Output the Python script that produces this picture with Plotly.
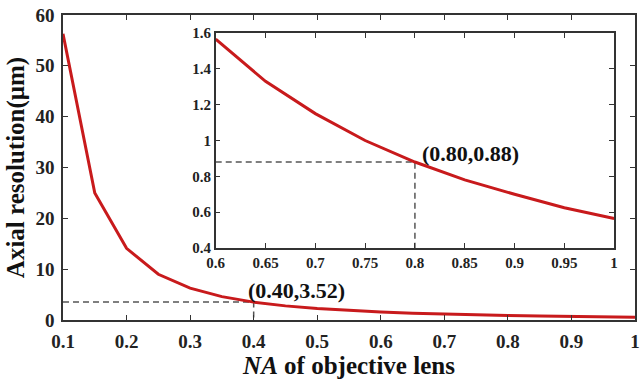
import plotly.graph_objects as go

# Main curve data
na_main = [0.10, 0.15, 0.20, 0.25, 0.30, 0.35, 0.40, 0.45, 0.50, 0.55, 0.60, 0.65, 0.70, 0.75, 0.80, 0.85, 0.90, 0.95, 1.00]
res_main = [56.3, 25.0, 14.1, 9.0, 6.26, 4.6, 3.52, 2.78, 2.25, 1.86, 1.56, 1.33, 1.15, 1.00, 0.88, 0.78, 0.70, 0.62, 0.56]

# Inset data
na_inset = [0.60, 0.65, 0.70, 0.75, 0.80, 0.85, 0.90, 0.95, 1.00]
res_inset = [1.565, 1.33, 1.15, 1.00, 0.88, 0.78, 0.70, 0.625, 0.565]

main_mark = (0.40, 3.52)
inset_mark = (0.80, 0.88)

main_xticks = [0.1, 0.2, 0.3, 0.4, 0.5, 0.6, 0.7, 0.8, 0.9, 1.0]
main_xlabels = ["0.1", "0.2", "0.3", "0.4", "0.5", "0.6", "0.7", "0.8", "0.9", "1"]
main_yticks = [0, 10, 20, 30, 40, 50, 60]
main_ylabels = ["0", "10", "20", "30", "40", "50", "60"]
inset_xticks = [0.6, 0.65, 0.7, 0.75, 0.8, 0.85, 0.9, 0.95, 1.0]
inset_xlabels = ["0.6", "0.65", "0.7", "0.75", "0.8", "0.85", "0.9", "0.95", "1"]
inset_yticks = [0.4, 0.6, 0.8, 1.0, 1.2, 1.4, 1.6]
inset_ylabels = ["0.4", "0.6", "0.8", "1", "1.2", "1.4", "1.6"]

RED = "#c81a1c"
AXC = "#333333"
DASHC = "#555555"
FONT = "Liberation Serif"

def b(labels):
    return ["<b>%s</b>" % s for s in labels]

fig = go.Figure()
fig.add_trace(go.Scatter(x=[na_main[0], main_mark[0], main_mark[0]], y=[main_mark[1], main_mark[1], 0],
                         mode="lines", line=dict(color=DASHC, width=1.5, dash="6px,4px"),
                         xaxis="x", yaxis="y", showlegend=False))
fig.add_trace(go.Scatter(x=na_main, y=res_main, mode="lines",
                         line=dict(color=RED, width=3), xaxis="x", yaxis="y", showlegend=False))
fig.add_trace(go.Scatter(x=[inset_xticks[0], inset_mark[0], inset_mark[0]], y=[inset_mark[1], inset_mark[1], inset_yticks[0]],
                         mode="lines", line=dict(color=DASHC, width=1.5, dash="6px,4px"),
                         xaxis="x2", yaxis="y2", showlegend=False))
fig.add_trace(go.Scatter(x=na_inset, y=res_inset, mode="lines",
                         line=dict(color=RED, width=3), xaxis="x2", yaxis="y2", showlegend=False))

axis_common = dict(showline=True, linecolor=AXC, linewidth=1.5, mirror="allticks",
                   ticks="inside", ticklen=5, tickcolor=AXC, showgrid=False, zeroline=False)

fig.update_layout(
    width=641, height=383,
    margin=dict(l=63, r=2, t=15, b=63),
    paper_bgcolor="white", plot_bgcolor="white",
    font=dict(family=FONT, color="#222222"),
    xaxis=dict(range=[0.1, 1.0], tickvals=main_xticks, ticktext=b(main_xlabels),
               tickfont=dict(size=19, family=FONT, color="#222222"), ticklabelstandoff=3,
               title=dict(text="<b><i>NA</i> of objective lens</b>", font=dict(size=25, family=FONT, color="#111111"), standoff=0),
               **axis_common),
    yaxis=dict(range=[0, 60], tickvals=main_yticks, ticktext=b(main_ylabels),
               tickfont=dict(size=19, family=FONT, color="#222222"), ticklabelstandoff=3,
               title=dict(text="<b>Axial resolution(μm)</b>", font=dict(size=25, family=FONT, color="#111111"), standoff=4),
               **axis_common),
    xaxis2=dict(domain=[0.267, 0.9635], anchor="y2", range=[0.6, 1.0], tickvals=inset_xticks,
                ticktext=b(inset_xlabels), tickfont=dict(size=15, family=FONT, color="#222222"), **axis_common),
    yaxis2=dict(domain=[0.236, 0.941], anchor="x2", range=[0.4, 1.6], tickvals=inset_yticks,
                ticktext=b(inset_ylabels), tickfont=dict(size=15, family=FONT, color="#222222"), **axis_common),
    annotations=[
        dict(x=0.467, y=5.9, xref="x", yref="y", text="<b>(0.40,3.52)</b>", showarrow=False,
             font=dict(size=22, family=FONT, color="#111111")),
        dict(x=0.856, y=0.93, xref="x2", yref="y2", text="<b>(0.80,0.88)</b>", showarrow=False,
             font=dict(size=22, family=FONT, color="#111111")),
    ],
)

fig.write_html("out.html")
